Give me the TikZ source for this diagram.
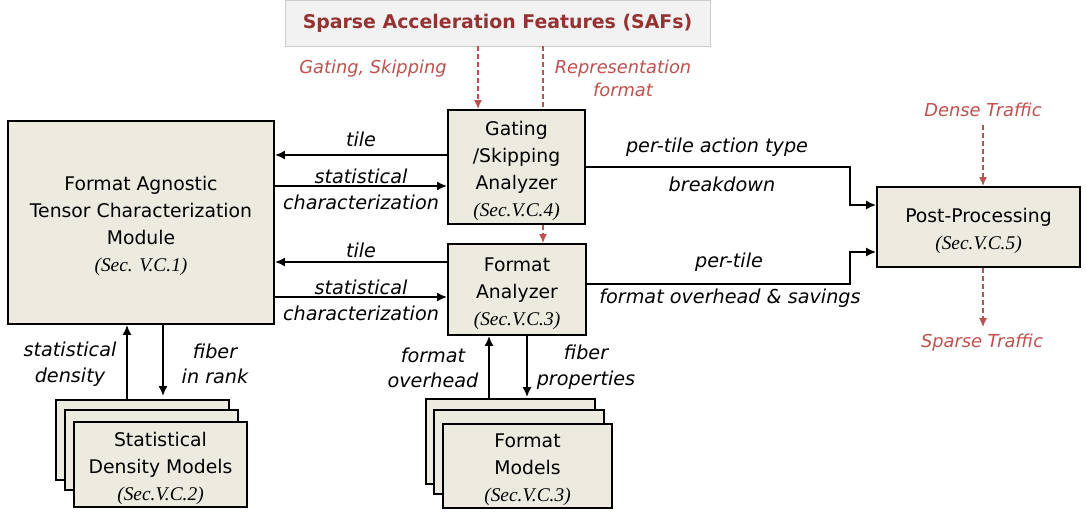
\documentclass[tikz,border=0pt]{standalone}
\usepackage{fontspec}
\setmainfont{DejaVu Sans}
\newfontfamily\secfont{Liberation Serif}
\usetikzlibrary{arrows.meta,positioning}
\definecolor{boxfill}{RGB}{237,235,224}
\definecolor{safred}{RGB}{192,80,77}
\definecolor{safdark}{RGB}{150,50,50}
\definecolor{saffill}{RGB}{242,242,242}
\definecolor{safline}{RGB}{205,205,205}
\newcommand{\secref}[1]{{\secfont\itshape\fontsize{19.4}{27}\selectfont #1}}
\newcommand{\tp}{\rule{0pt}{21.5pt}}
\tikzset{
  block/.style={draw, line width=1.8pt, fill=boxfill, align=center, inner sep=0pt,
    font=\fontsize{18.8}{27}\selectfont},
  stack/.style={draw, line width=1.8pt, fill=boxfill, inner sep=0pt},
  lbl/.style={font=\fontsize{19.2}{25.5}\selectfont\itshape, align=center, inner sep=0pt},
  redlbl/.style={font=\fontsize{17.8}{23}\selectfont\itshape, align=center, inner sep=0pt, text=safred},
  arr/.style={line width=1.8pt, -{Latex[length=10pt,width=9pt]}},
  redarr/.style={draw=safred, line width=1.5pt, dash pattern=on 5pt off 3pt, -{Latex[length=9pt,width=8pt]}},
  redwire/.style={draw=safred, line width=1.5pt, dash pattern=on 5pt off 3pt},
}
\begin{document}
\begin{tikzpicture}[x=1pt,y=-1pt]
  \useasboundingbox (0,0) rectangle (1086,514);
  % SAFs banner
  \node[draw=safline, fill=saffill, minimum width=425pt, minimum height=46pt, inner sep=0pt,
    text=safdark, font=\bfseries\fontsize{18.9}{22}\selectfont] (saf) at (497.5,23)
    {Sparse Acceleration Features (SAFs)};
  % main blocks
  \node[block, minimum width=266pt, minimum height=203pt] (fatc) at (141,222.5)
    {\tp Format Agnostic\\Tensor Characterization\\Module\\\secref{(Sec. V.C.1)}};
  \node[block, minimum width=137pt, minimum height=114pt] (gate) at (516.5,167)
    {\tp Gating\\/Skipping\\Analyzer\\\secref{(Sec.V.C.4)}};
  \node[block, minimum width=138pt, minimum height=91pt] (fmt) at (517,289.5)
    {\tp Format\\Analyzer\\\secref{(Sec.V.C.3)}};
  \node[block, minimum width=203pt, minimum height=80pt] (post) at (978.5,227)
    {\tp Post-Processing\\\secref{(Sec.V.C.5)}};
  % model stacks
  \node[stack, minimum width=173pt, minimum height=80pt] (sdm3) at (142.5,440) {};
  \node[stack, minimum width=173pt, minimum height=80pt] (sdm2) at (151.5,450) {};
  \node[block, minimum width=173pt, minimum height=85pt] (sdm) at (160.5,464.5)
    {\tp Statistical\\Density Models\\\secref{(Sec.V.C.2)}};
  \node[stack, minimum width=169pt, minimum height=85pt] (fm3) at (510.5,441.5) {};
  \node[stack, minimum width=170pt, minimum height=84pt] (fm2) at (519,452) {};
  \node[block, minimum width=169pt, minimum height=84pt] (fm) at (527.5,466)
    {\tp Format\\Models\\\secref{(Sec.V.C.3)}};
  % labels
  \node[redlbl] (lgs) at (373,69) {Gating, Skipping};
  \node[redlbl] (lrep) at (623,78) {Representation\\format};
  \node[redlbl] (dense) at (983,110) {Dense Traffic};
  \node[redlbl] (sparse) at (982,343) {Sparse Traffic};
  \node[lbl] (ltile1) at (361,139) {tile};
  \node[lbl] (lstat1) at (361,189.5) {statistical\\characterization};
  \node[lbl] (ltile2) at (361,250) {tile};
  \node[lbl] (lstat2) at (361,300.5) {statistical\\characterization};
  \node[lbl] (lact) at (717,147) {per-tile action type};
  \node[lbl] (lbrk) at (722,184) {breakdown};
  \node[lbl] (lpt) at (729,262) {per-tile};
  \node[lbl] (lovh) at (730,298) {format overhead \& savings};
  \node[lbl] (lsd) at (70,364) {statistical\\density};
  \node[lbl] (lfr) at (215,364) {fiber\\in rank};
  \node[lbl] (lfo) at (433,368) {format\\overhead};
  \node[lbl] (lfp) at (586,367) {fiber\\properties};
  % anchor points
  \coordinate (gsIn) at ([xshift=-38.5pt]gate.north);
  \coordinate (repIn) at ([xshift=26.5pt]gate.north);
  \coordinate (repOut) at ([xshift=26.5pt]gate.south);
  \coordinate (tile1) at ([yshift=12pt]gate.west);
  \coordinate (stat1) at ([yshift=-19pt]gate.west);
  \coordinate (tile2) at ([yshift=27.5pt]fmt.west);
  \coordinate (stat2) at ([yshift=-7.5pt]fmt.west);
  \coordinate (fmtOut) at ([yshift=5.5pt]fmt.east);
  \coordinate (bend) at ([xshift=-26pt]post.west);
  \coordinate (pIn1) at ([yshift=22pt]post.west);
  \coordinate (pIn2) at ([yshift=-25pt]post.west);
  \coordinate (sdUp) at ([xshift=-15.5pt]sdm3.north);
  \coordinate (sdDown) at ([xshift=20.5pt,yshift=3pt]sdm3.north);
  \coordinate (fmUp) at ([xshift=-21.5pt]fm3.north);
  \coordinate (fmDown) at ([xshift=16.5pt,yshift=1pt]fm3.north);
  % red dashed
  \draw[redarr] (saf.south -| gsIn) -- (gsIn);
  \draw[redwire] (saf.south -| repIn) -- (repIn);
  \draw[redarr] (repOut) -- (fmt.north -| repOut);
  \draw[redarr] ([yshift=-8pt]dense.south) -- (post.north -| dense);
  \draw[redarr] (post.south -| dense) -- ([yshift=7pt]sparse.north -| dense);
  % black connectors
  \draw[arr] (tile1) -- (fatc.east |- tile1);
  \draw[arr] (fatc.east |- stat1) -- (stat1);
  \draw[arr] (tile2) -- (fatc.east |- tile2);
  \draw[arr] (fatc.east |- stat2) -- (stat2);
  \draw[arr] (gate.east) -- (gate.east -| bend) |- (pIn1);
  \draw[arr] (fmtOut) -- (fmtOut -| bend) |- (pIn2);
  \draw[arr] (sdUp) -- (fatc.south -| sdUp);
  \draw[arr] (fatc.south -| sdDown) -- (sdDown);
  \draw[arr] (fmUp) -- (fmt.south -| fmUp);
  \draw[arr] (fmt.south -| fmDown) -- (fmDown);
\end{tikzpicture}
\end{document}
